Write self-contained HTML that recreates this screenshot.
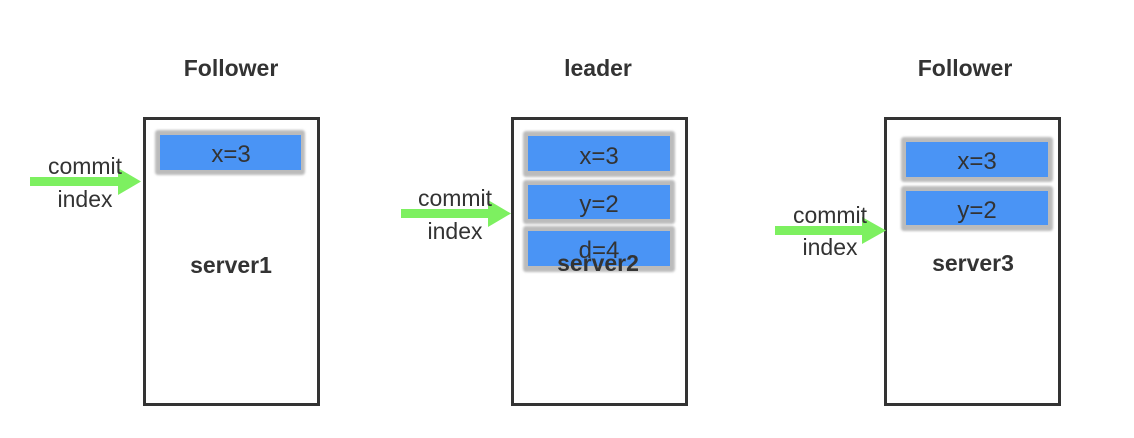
<!DOCTYPE html>
<html><head><meta charset="utf-8"><style>
html,body{margin:0;padding:0;background:#fff;width:1134px;height:438px;overflow:hidden}
text{font-family:"Liberation Sans",sans-serif;fill:#333}
.t{font-size:23px;font-weight:bold}
.e{font-size:24px}
.c{font-size:23px}
</style></head><body>
<svg width="1134" height="438" viewBox="0 0 1134 438">
<defs>
<filter id="b" x="-10%" y="-20%" width="120%" height="140%"><feGaussianBlur stdDeviation="1"/></filter>
</defs>
<g>
<text class="t" x="231" y="76" text-anchor="middle">Follower</text>
<rect x="144.5" y="118.5" width="174" height="286" fill="#fff" stroke="#333" stroke-width="3"/>
<rect x="155" y="130" width="150" height="45" rx="3" fill="#bbb" filter="url(#b)"/>
<rect x="160" y="135" width="141" height="35" fill="#4a94f5"/>
<text class="e" x="231" y="162" text-anchor="middle">x=3</text>
<text class="t" x="231" y="273" text-anchor="middle">server1</text>
</g>
<g>
<rect x="30" y="177" width="92" height="9" fill="#7df060"/>
<polygon points="118,168 141,181.5 118,195" fill="#7df060"/>
<text class="c" x="85" y="174" text-anchor="middle">commit</text>
<text class="c" x="85" y="207" text-anchor="middle">index</text>
</g>
<g>
<text class="t" x="598" y="76" text-anchor="middle">leader</text>
<rect x="512.5" y="118.5" width="174" height="286" fill="#fff" stroke="#333" stroke-width="3"/>
<rect x="523" y="131" width="152" height="46" rx="3" fill="#bbb" filter="url(#b)"/>
<rect x="528" y="136" width="142" height="35" fill="#4a94f5"/>
<text class="e" x="599" y="164" text-anchor="middle">x=3</text>
<rect x="523" y="180" width="152" height="44" rx="3" fill="#bbb" filter="url(#b)"/>
<rect x="528" y="185" width="142" height="34" fill="#4a94f5"/>
<text class="e" x="599" y="212" text-anchor="middle">y=2</text>
<rect x="523" y="226" width="152" height="46" rx="3" fill="#bbb" filter="url(#b)"/>
<rect x="528" y="231" width="142" height="35" fill="#4a94f5"/>
<text class="e" x="599" y="258" text-anchor="middle">d=4</text>
<text class="t" x="598" y="271" text-anchor="middle">server2</text>
</g>
<g>
<rect x="401" y="209" width="92" height="9" fill="#7df060"/>
<polygon points="488,200 511,213.5 488,227" fill="#7df060"/>
<text class="c" x="455" y="206" text-anchor="middle">commit</text>
<text class="c" x="455" y="239" text-anchor="middle">index</text>
</g>
<g>
<text class="t" x="965" y="76" text-anchor="middle">Follower</text>
<rect x="885.5" y="118.5" width="174" height="286" fill="#fff" stroke="#333" stroke-width="3"/>
<rect x="901" y="137" width="152" height="45" rx="3" fill="#bbb" filter="url(#b)"/>
<rect x="906" y="142" width="142" height="35" fill="#4a94f5"/>
<text class="e" x="977" y="169" text-anchor="middle">x=3</text>
<rect x="901" y="186" width="152" height="45" rx="3" fill="#bbb" filter="url(#b)"/>
<rect x="906" y="191" width="142" height="34" fill="#4a94f5"/>
<text class="e" x="977" y="218" text-anchor="middle">y=2</text>
<text class="t" x="973" y="271" text-anchor="middle">server3</text>
</g>
<g>
<rect x="775" y="226" width="92" height="9" fill="#7df060"/>
<polygon points="862,217 886,230.5 862,244" fill="#7df060"/>
<text class="c" x="830" y="223" text-anchor="middle">commit</text>
<text class="c" x="830" y="255" text-anchor="middle">index</text>
</g>
</svg>
</body></html>
